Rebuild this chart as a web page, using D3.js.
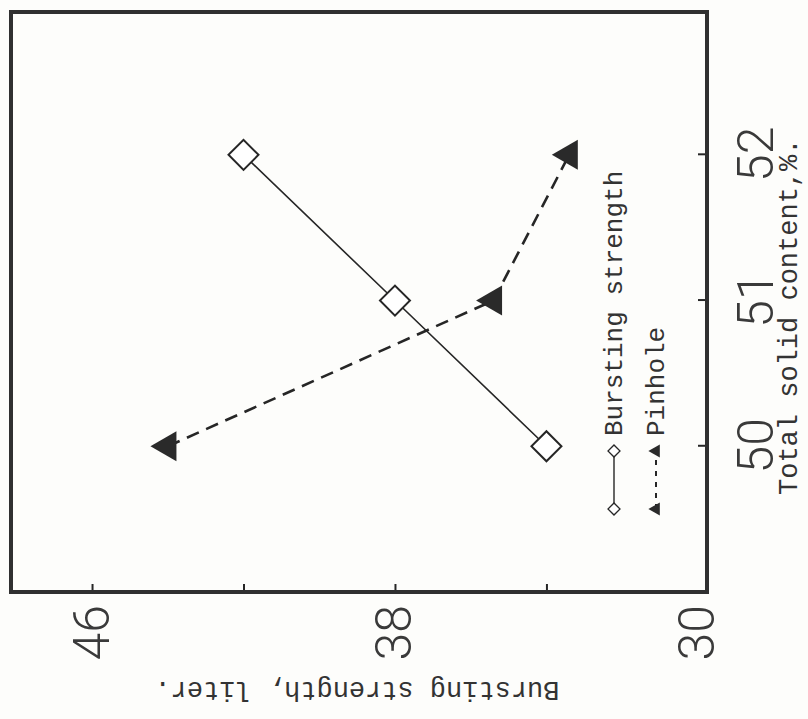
<!DOCTYPE html>
<html>
<head>
<meta charset="utf-8">
<script src="https://cdn.jsdelivr.net/npm/d3@7"></script>
<style>
  body { margin: 0; background: #fdfdfb; }
  svg { display: block; }
</style>
</head>
<body>
<svg id="chart" width="808" height="719"></svg>
<script>
// values (it is printed turned 90 deg)
const solids = [50, 51, 52];
const bursting = [34, 38, 42];
const pinhole = [44, 35.4, 33.4];
const xTicks = [50, 51, 52];
const yTicks = [30, 34, 38, 42, 46];
const yLabels = [30, 38, 46];
const legendNames = ["Bursting strength", "Pinhole"];

const svg = d3.select("#chart");
const W = +svg.attr("width");
const H = +svg.attr("height");
const ink = "#262626";

// draw the chart upright, then turn the whole thing counter-clockwise
// inside g: u runs along the page (screen bottom -> top), v runs screen left -> right
const g = svg.append("g")
  .attr("transform", `translate(0,${H}) rotate(-90)`);

const frame = {left: 127, right: 707, top: 11, bottom: 707};

const x = d3.scaleLinear().domain([49, 52.98]).range([frame.left, frame.right]);
const y = d3.scaleLinear().domain([29.76, 48.14]).range([frame.bottom, frame.top]);

// axes, ticks pointing inward
const xAxis = g.append("g")
  .attr("transform", `translate(0,${frame.bottom})`)
  .call(d3.axisBottom(x)
    .tickValues(xTicks)
    .tickSizeInner(-9)
    .tickSizeOuter(0)
    .tickPadding(30)
    .tickFormat(d3.format("d")));

const yAxis = g.append("g")
  .attr("transform", `translate(${frame.left},0)`)
  .call(d3.axisLeft(y)
    .tickValues(yTicks)
    .tickSizeInner(-8)
    .tickSizeOuter(0)
    .tickPadding(13)
    .tickFormat(d => yLabels.includes(d) ? d : ""));

[xAxis, yAxis].forEach(ax => {
  ax.select(".domain").remove();
  ax.selectAll("line").attr("stroke", ink).attr("stroke-width", 2);
  ax.selectAll("text")
    .attr("fill", "#3a3a3a")
    .attr("font-family", "Roboto, 'Open Sans', sans-serif")
    .attr("font-weight", 300)
    .attr("font-size", 50);
});
yAxis.selectAll(".tick").filter(d => d === 30).select("line").remove();

// frame
g.append("rect")
  .attr("x", frame.left)
  .attr("y", frame.top)
  .attr("width", frame.right - frame.left)
  .attr("height", frame.bottom - frame.top)
  .attr("fill", "none")
  .attr("stroke", "#303030")
  .attr("stroke-width", 4);

// axis titles
g.append("text")
  .attr("x", 224)
  .attr("y", 797)
  .attr("font-family", "'Liberation Mono', monospace")
  .attr("font-size", 27)
  .attr("fill", "#333")
  .text("Total solid content,%.");

g.append("text")
  .attr("transform", `translate(37,357) rotate(-90)`)
  .attr("text-anchor", "middle")
  .attr("font-family", "'Liberation Mono', monospace")
  .attr("font-size", 27)
  .attr("fill", "#333")
  .text("Bursting strength, liter.");

// series
const line = d3.line()
  .x((d, i) => x(solids[i]))
  .y(d => y(d));

g.append("path")
  .datum(pinhole)
  .attr("d", line)
  .attr("fill", "none")
  .attr("stroke", ink)
  .attr("stroke-width", 2.6)
  .attr("stroke-dasharray", "13,8");

g.append("path")
  .datum(bursting)
  .attr("d", line)
  .attr("fill", "none")
  .attr("stroke", ink)
  .attr("stroke-width", 1.6);

const diamond = d3.symbol(d3.symbolSquare);
const triangle = d3.symbol(d3.symbolTriangle);

g.append("g")
  .selectAll("path")
  .data(bursting)
  .enter()
  .append("path")
  .attr("d", diamond.size(450))
  .attr("transform", (d, i) => `translate(${x(solids[i])},${y(d)}) rotate(45)`)
  .attr("fill", "#fff")
  .attr("stroke", ink)
  .attr("stroke-width", 2);

g.append("g")
  .selectAll("path")
  .data(pinhole)
  .enter()
  .append("path")
  .attr("d", triangle.size(390))
  .attr("transform", (d, i) => `translate(${x(solids[i])},${y(d)})`)
  .attr("fill", "#2a2a2a");

// legend
const legend = g.append("g").attr("class", "legend");
const rows = [
  {name: legendNames[0], mid: 614, base: 622, dash: null, sym: "d"},
  {name: legendNames[1], mid: 656, base: 664, dash: "5,6", sym: "t"}
];
rows.forEach(r => {
  legend.append("line")
    .attr("x1", 210).attr("x2", 268)
    .attr("y1", r.mid).attr("y2", r.mid)
    .attr("stroke", ink)
    .attr("stroke-width", r.dash ? 2 : 1.4)
    .attr("stroke-dasharray", r.dash);
  [210, 268].forEach(u => {
    legend.append("path")
      .attr("d", r.sym === "d" ? diamond.size(72)() : triangle.size(75)())
      .attr("transform", `translate(${u},${r.mid})` + (r.sym === "d" ? " rotate(45)" : ""))
      .attr("fill", r.sym === "d" ? "#fff" : "#2a2a2a")
      .attr("stroke", r.sym === "d" ? ink : "none")
      .attr("stroke-width", 1.3);
  });
  legend.append("text")
    .attr("x", 283)
    .attr("y", r.base)
    .attr("font-family", "'Liberation Mono', monospace")
    .attr("font-size", 26)
    .attr("fill", "#333")
    .text(r.name);
});
</script>
</body>
</html>
